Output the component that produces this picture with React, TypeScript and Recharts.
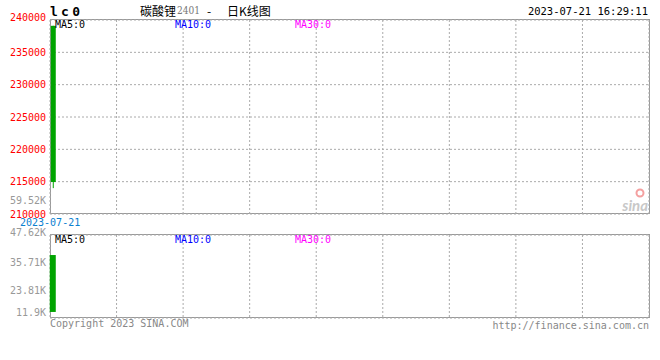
import { ComposedChart, Bar, XAxis, YAxis, CartesianGrid } from 'recharts'

// one daily candle for lc0 on 2023-07-21
const candles = [{ slot: 0.5, open: 239100, high: 239100, low: 214000, close: 214950 }]
const volumes = [{ slot: 0.5, base: 14500, vol: 39000 }]

const SLOTS = 108
const xGridTicks = [12, 24, 36, 48, 60, 72, 84, 96]
const priceTicks = [210000, 215000, 220000, 225000, 230000, 235000, 240000]
const volLabelTicks = [11900, 23810, 35710, 47620]
const volGridTicks = [20830, 29760, 38690]
const maLabels = [
  { text: 'MA5:0', color: '#000000', x: 55 },
  { text: 'MA10:0', color: '#0000ff', x: 175 },
  { text: 'MA30:0', color: '#ff00ff', x: 295 },
]

const MONO = '"DejaVu Sans Mono", "Liberation Mono", monospace'
const GREEN = '#00a400'

function Candle(props: any) {
  const { x, y, width, height, payload } = props
  const { open, close, high, low } = payload
  const ratio = height / (high - low || 1)
  const yOf = (v: number) => y + (high - v) * ratio
  const top = yOf(Math.max(open, close))
  const bottom = yOf(Math.min(open, close))
  const cx = x + width / 2
  return (
    <g>
      <line x1={cx} x2={cx} y1={yOf(high)} y2={yOf(low)} stroke={GREEN} strokeWidth={1} />
      <rect x={x} y={top} width={width} height={Math.max(bottom - top, 1)} fill={GREEN} />
    </g>
  )
}

function PriceTick(props: any) {
  const { y, payload } = props
  const dy = payload.value === 240000 ? -3 : 0
  return (
    <text x={46} y={y + dy} textAnchor="end" dominantBaseline="central" fill="#ff0000" fontFamily={MONO} fontSize={10}>
      {payload.value}
    </text>
  )
}

function VolTick(props: any) {
  const { y, payload } = props
  let dy = 0
  if (payload.value === 47620) dy = -3
  if (payload.value === 11900) dy = -6
  const label = (Math.round(payload.value / 10) / 100).toString() + 'K'
  return (
    <text x={46} y={y + dy} textAnchor="end" dominantBaseline="central" fill="#999999" fontFamily={MONO} fontSize={10}>
      {label}
    </text>
  )
}

export default function App() {
  return (
    <div style={{ position: 'absolute', left: 0, top: 0, width: 660, height: 360, background: '#fff', overflow: 'hidden' }}>
      {/* panel frames */}
      <svg width={660} height={360} style={{ position: 'absolute', left: 0, top: 0 }}>
        <rect x={50.5} y={19.5} width={599} height={194} fill="none" stroke="#999" />
        <rect x={50.5} y={234.5} width={599} height={83} fill="none" stroke="#999" />
      </svg>

      <div style={{ position: 'absolute', left: 0, top: 0 }}>
        <ComposedChart width={660} height={224} data={candles} margin={{ top: 20, right: 11, bottom: 10, left: 0 }}>
          <CartesianGrid stroke="#aaa" strokeDasharray="2 2" />
          <XAxis type="number" dataKey="slot" domain={[0, SLOTS]} ticks={xGridTicks} hide />
          <YAxis
            domain={[210000, 240000]}
            ticks={priceTicks}
            width={50}
            axisLine={false}
            tickLine={false}
            tick={<PriceTick />}
            interval={0}
          />
          <Bar dataKey={(d: any) => [d.low, d.high]} barSize={5} shape={<Candle />} isAnimationActive={false} />
        </ComposedChart>
      </div>

      <div style={{ position: 'absolute', left: 0, top: 220 }}>
        <ComposedChart width={660} height={100} data={volumes} margin={{ top: 15, right: 11, bottom: 2, left: 0 }}>
          <CartesianGrid stroke="#aaa" strokeDasharray="2 2" yAxisId="grid" />
          <XAxis type="number" dataKey="slot" domain={[0, SLOTS]} ticks={xGridTicks} hide />
          <YAxis yAxisId="grid" domain={[11900, 47620]} ticks={volGridTicks} hide />
          <YAxis
            yAxisId="lbl"
            domain={[11900, 47620]}
            ticks={volLabelTicks}
            width={50}
            axisLine={false}
            tickLine={false}
            tick={<VolTick />}
            interval={0}
          />
          <Bar yAxisId="lbl" dataKey={(d: any) => [d.base, d.vol]} barSize={6} fill={GREEN} isAnimationActive={false} />
        </ComposedChart>
      </div>

      <svg width={660} height={360} style={{ position: 'absolute', left: 0, top: 0, pointerEvents: 'none' }}>
        <text x={50} y={11} dominantBaseline="central" fontFamily={MONO} fontWeight="bold" fontSize={13} textLength={30} lengthAdjust="spacing">
          l c 0
        </text>
        <text y={10} dominantBaseline="central" fontSize={12} fontFamily='"Noto Sans CJK SC", sans-serif'>
          <tspan x={140} fill="#000">碳酸锂</tspan>
          <tspan x={177} fill="#777" fontSize={11} fontFamily='"DejaVu Serif", serif' textLength={23} lengthAdjust="spacingAndGlyphs">2401</tspan>
          <tspan x={207} fill="#000">-</tspan>
          <tspan x={227} fill="#000">日K线图</tspan>
        </text>
        <text x={648} y={11} textAnchor="end" dominantBaseline="central" fontFamily={MONO} fontSize={10.5} fill="#000">
          2023-07-21 16:29:11
        </text>
        {maLabels.map((m) => (
          <text key={'p' + m.text} x={m.x} y={24} dominantBaseline="central" fontFamily={MONO} fontSize={10} fill={m.color}>
            {m.text}
          </text>
        ))}
        {maLabels.map((m) => (
          <text key={'v' + m.text} x={m.x} y={239} dominantBaseline="central" fontFamily={MONO} fontSize={10} fill={m.color}>
            {m.text}
          </text>
        ))}
        <text x={46} y={200} textAnchor="end" dominantBaseline="central" fontFamily={MONO} fontSize={10} fill="#999">
          59.52K
        </text>
        <text x={20} y={222} dominantBaseline="central" fontFamily={MONO} fontSize={10} fill="#0a80d0">
          2023-07-21
        </text>
        <text x={50} y={323} dominantBaseline="central" fontFamily={MONO} fontSize={10} fill="#888">
          Copyright 2023 SINA.COM
        </text>
        <text x={649} y={325} textAnchor="end" dominantBaseline="central" fontFamily={MONO} fontSize={10} fill="#888">
          http://finance.sina.com.cn
        </text>
        <circle cx={640} cy={193} r={3.5} fill="none" stroke="#f4a0a0" strokeWidth={2} />
        <text x={648} y={205} textAnchor="end" dominantBaseline="central" fontFamily="Lato, sans-serif" fontStyle="italic" fontWeight="bold" fontSize={15} fill="#c8c8c8">
          sina
        </text>
      </svg>
    </div>
  )
}
